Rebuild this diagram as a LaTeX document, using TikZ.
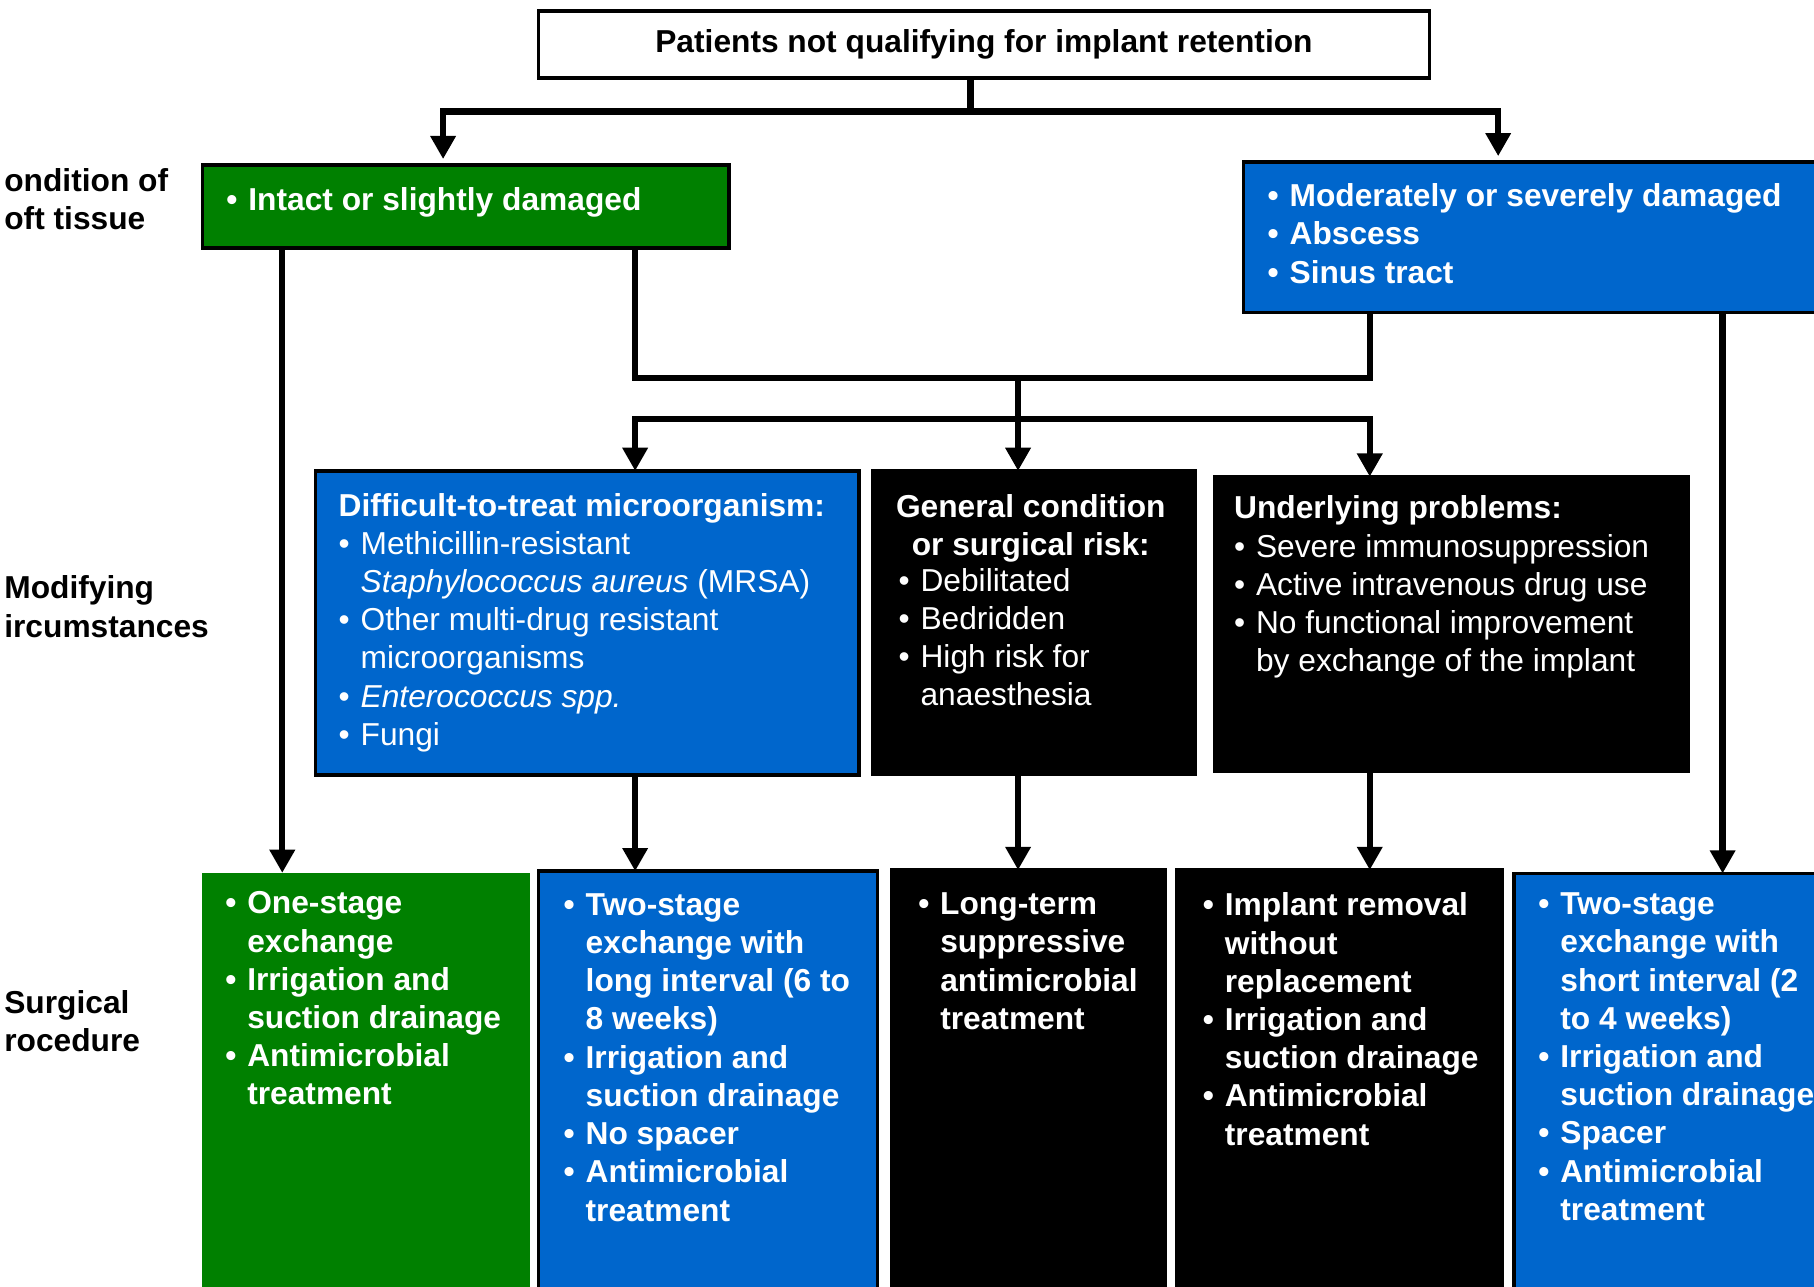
\documentclass[tikz,border=0pt]{standalone}
\usepackage{fontspec}
\setmainfont{Liberation Sans}
\usetikzlibrary{arrows.meta}

\definecolor{okgreen}{RGB}{0,128,0}
\definecolor{okblue}{RGB}{0,102,204}

\newcommand\bul{\makebox[0.19cm][l]{\textbullet}}
\newcommand\indt{\hspace*{0.19cm}}

\begin{document}
\begin{tikzpicture}
[box/.style={draw=black, line width=0.03cm, inner sep=0pt, outer sep=0pt, anchor=north west},
 txt/.style={anchor=north west, inner sep=0pt, align=left, text=white,
   font=\fontsize{7.8}{9.4}\selectfont},
 txtb/.style={txt, font=\fontsize{7.8}{9.4}\selectfont\bfseries},
 lbl/.style={txtb, text=black},
 >={Triangle[length=0.2cm,width=0.21cm]}, line width=0.055cm]
\useasboundingbox (0,0) rectangle (15.68,-11.12);
\clip (0,0) rectangle (15.68,-11.12);

% row labels
\node[lbl] (soft) at (0.01,-1.425) {ondition of\\ oft tissue};
\node[lbl] (modify) at (0.01,-4.95) {Modifying\\ ircumstances};
\node[lbl] (surgery) at (0.01,-8.535) {Surgical\\ rocedure};

% top
\node[box, minimum width=7.70cm, minimum height=0.58cm,
  font=\fontsize{7.8}{9.4}\selectfont\bfseries] (top) at (4.655,-0.095)
  {Patients not qualifying for implant retention};

% condition of soft tissue
\node[box, fill=okgreen, minimum width=4.55cm, minimum height=0.72cm] (soft1) at (1.75,-1.425) {};
\node[txtb] (soft1-t) at (1.93,-1.59) {\bul Intact or slightly damaged};
\node[box, fill=okblue, minimum width=6cm, minimum height=1.30cm] (soft2) at (10.75,-1.40) {};
\node[txtb] (soft2-t) at (10.93,-1.56)
  {\bul Moderately or severely damaged\\ \bul Abscess\\ \bul Sinus tract};

% modifying circumstances
\node[box, fill=okblue, minimum width=4.70cm, minimum height=2.63cm] (mod1) at (2.725,-4.07) {};
\node[txt] (mod1-t) at (2.90,-4.235)
  {\textbf{Difficult-to-treat microorganism:}\\
   \bul Methicillin-resistant\\
   \indt\textit{Staphylococcus aureus} (MRSA)\\
   \bul Other multi-drug resistant\\
   \indt microorganisms\\
   \bul \textit{Enterococcus spp.}\\
   \bul Fungi};
\node[box, fill=black, minimum width=2.79cm, minimum height=2.62cm] (mod2) at (7.54,-4.07) {};
\node[txtb, anchor=north, align=center] (mod2-h) at (8.91,-4.245)
  {General condition\\ or surgical risk:};
\node[txt] (mod2-t) at (7.74,-4.885)
  {\bul Debilitated\\ \bul Bedridden\\ \bul High risk for\\ \indt anaesthesia};
\node[box, fill=black, minimum width=4.09cm, minimum height=2.55cm] (mod3) at (10.50,-4.12) {};
\node[txt] (mod3-t) at (10.64,-4.26)
  {\textbf{Underlying problems:}\\
   \bul Severe immunosuppression\\
   \bul Active intravenous drug use\\
   \bul No functional improvement\\
   \indt by exchange of the implant};

% surgical procedure
\node[box, draw=none, fill=okgreen, minimum width=2.83cm, minimum height=4cm] (proc1) at (1.75,-7.545) {};
\node[txtb] (proc1-t) at (1.92,-7.68)
  {\bul One-stage\\ \indt exchange\\ \bul Irrigation and\\ \indt suction drainage\\
   \bul Antimicrobial\\ \indt treatment};
\node[box, fill=okblue, minimum width=2.93cm, minimum height=4cm] (proc2) at (4.655,-7.53) {};
\node[txtb] (proc2-t) at (4.845,-7.695)
  {\bul Two-stage\\ \indt exchange with\\ \indt long interval (6 to\\ \indt 8 weeks)\\
   \bul Irrigation and\\ \indt suction drainage\\ \bul No spacer\\
   \bul Antimicrobial\\ \indt treatment};
\node[box, fill=black, minimum width=2.37cm, minimum height=4cm] (proc3) at (7.705,-7.52) {};
\node[txtb] (proc3-t) at (7.91,-7.69)
  {\bul Long-term\\ \indt suppressive\\ \indt antimicrobial\\ \indt treatment};
\node[box, fill=black, minimum width=2.81cm, minimum height=4cm] (proc4) at (10.175,-7.52) {};
\node[txtb] (proc4-t) at (10.37,-7.69)
  {\bul Implant removal\\ \indt without\\ \indt replacement\\
   \bul Irrigation and\\ \indt suction drainage\\
   \bul Antimicrobial\\ \indt treatment};
\node[box, fill=okblue, minimum width=3cm, minimum height=4cm] (proc5) at (13.085,-7.55) {};
\node[txtb] (proc5-t) at (13.27,-7.69)
  {\bul Two-stage\\ \indt exchange with\\ \indt short interval (2\\ \indt to 4 weeks)\\
   \bul Irrigation and\\ \indt suction drainage\\ \bul Spacer\\
   \bul Antimicrobial\\ \indt treatment};

% connectors
\coordinate (split) at (8.39,-0.965);
\coordinate (merge) at (8.80,-3.27);
\coordinate (fork) at (8.80,-3.62);
\coordinate (left) at (3.83,0);
\coordinate (right) at (12.95,0);
\coordinate (c1) at (2.44,0);
\coordinate (c2) at (5.49,0);
\coordinate (c4) at (11.84,0);
\coordinate (c5) at (14.89,0);

\draw (split |- top.south) -- (split);
\draw[->, shorten >=0.05cm] (split) -| (left |- soft1.north);
\draw[->, shorten >=0.05cm] (split) -| (right |- soft2.north);
\draw[->] (c1 |- soft1.south) -- (c1 |- proc1.north);
\draw[->] (c5 |- soft2.south) -- (c5 |- proc5.north);
\draw (c2 |- soft1.south) |- (c4 |- merge) -- (c4 |- soft2.south);
\draw (merge) -- (fork);
\draw[->] (fork) -| (c2 |- mod1.north);
\draw[->] (fork) -- (fork |- mod2.north);
\draw[->] (fork) -| (c4 |- mod3.north);
\draw[->] (c2 |- mod1.south) -- (c2 |- proc2.north);
\draw[->] (fork |- mod2.south) -- (fork |- proc3.north);
\draw[->] (c4 |- mod3.south) -- (c4 |- proc4.north);
\end{tikzpicture}
\end{document}
